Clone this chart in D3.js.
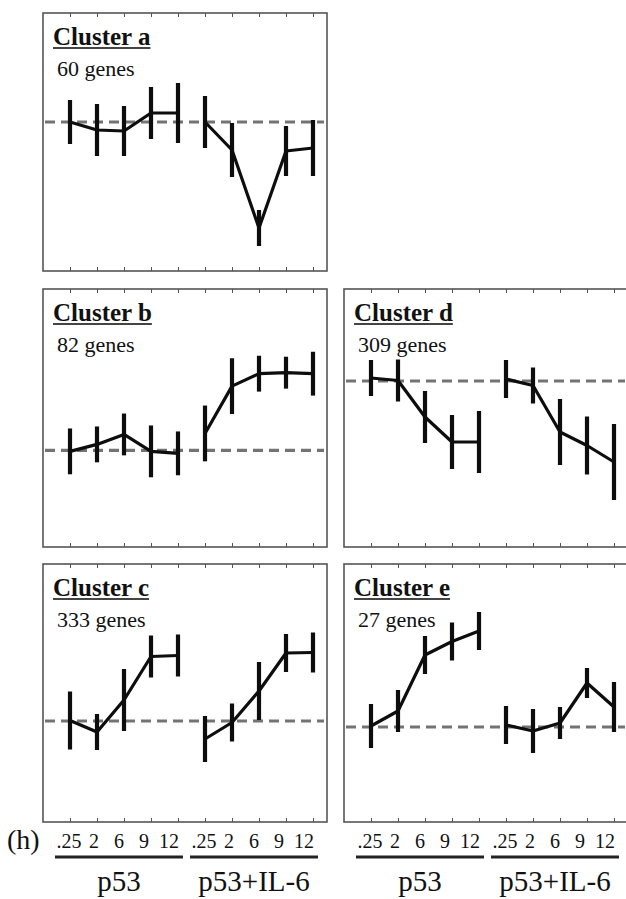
<!DOCTYPE html>
<html>
<head>
<meta charset="utf-8">
<script src="https://cdn.jsdelivr.net/npm/d3@7"></script>
<style>
  html, body { margin: 0; padding: 0; background: #fff; }
  svg { display: block; }
</style>
</head>
<body>
<svg id="chart" width="626" height="899"></svg>
<script>
// time points (h) and the two treatments
const timeLabels = [".25", "2", "6", "9", "12"];
const treatments = ["p53", "p53+IL-6"];

// clusters, gene counts, mean ratio per time point (p53 then p53+IL-6) and error half-widths
const clusterNames = ["a", "b", "c", "d", "e"];
const geneCounts = [60, 82, 333, 309, 27];

const meansA = [0.00, -0.08, -0.09, 0.09, 0.09, 0.00, -0.28, -1.06, -0.29, -0.26];
const errA   = [0.22, 0.26, 0.25, 0.26, 0.30, 0.26, 0.27, 0.18, 0.25, 0.28];

const meansB = [-0.01, 0.06, 0.16, -0.01, -0.03, 0.17, 0.645, 0.77, 0.78, 0.77];
const errB   = [0.23, 0.18, 0.21, 0.26, 0.22, 0.28, 0.28, 0.18, 0.16, 0.22];

const meansC = [0.005, -0.11, 0.21, 0.645, 0.655, -0.18, -0.015, 0.30, 0.68, 0.685];
const errC   = [0.29, 0.18, 0.31, 0.21, 0.21, 0.23, 0.19, 0.29, 0.19, 0.20];

const meansD = [0.03, 0.005, -0.36, -0.61, -0.61, 0.02, -0.045, -0.51, -0.645, -0.81];
const errD   = [0.18, 0.21, 0.26, 0.27, 0.31, 0.19, 0.18, 0.33, 0.29, 0.38];

const meansE = [0.01, 0.16, 0.72, 0.855, 0.96, 0.02, -0.04, 0.04, 0.44, 0.20];
const errE   = [0.22, 0.21, 0.19, 0.19, 0.19, 0.19, 0.22, 0.16, 0.15, 0.25];

// y extent shown in each panel
const yDomains = [[-1.49, 1.09], [-0.97, 1.62], [-1.01, 1.57], [-1.66, 0.92], [-0.95, 1.63]];

const allMeans = [meansA, meansB, meansC, meansD, meansE];
const allErrs = [errA, errB, errC, errD, errE];

const serif = "'Liberation Serif', 'Times New Roman', 'DejaVu Serif', serif";
const svg = d3.select("#chart").attr("font-family", serif);

// panel grid: two columns, three rows (top right is empty)
const colX = [43, 344];
const rowY = [13, 289, 564];
const panelW = 284, panelH = 258;
const cells = [[0, 0], [0, 1], [0, 2], [1, 1], [1, 2]]; // [col,row] for a..e

// one key per time point of each treatment
const keys = treatments.flatMap(t => timeLabels.map(h => t + "|" + h));
const x = d3.scalePoint().domain(keys).range([27, 270]);

clusterNames.forEach((name, ci) => {
  const [col, row] = cells[ci];
  const g = svg.append("g").attr("transform", `translate(${colX[col]},${rowY[row]})`);
  const y = d3.scaleLinear().domain(yDomains[ci]).range([panelH, 0]);

  // frame
  g.append("rect")
    .attr("width", panelW).attr("height", panelH)
    .attr("fill", "none").attr("stroke", "#555").attr("stroke-width", 1.6);

  // small inward ticks top and bottom
  const tickAxisB = d3.axisBottom(x).tickSize(-4).tickFormat("");
  const tickAxisT = d3.axisTop(x).tickSize(-4).tickFormat("");
  g.append("g").attr("transform", `translate(0,${panelH})`).call(tickAxisB)
    .call(a => a.select(".domain").remove())
    .call(a => a.selectAll("line").attr("stroke", "#555"));
  g.append("g").call(tickAxisT)
    .call(a => a.select(".domain").remove())
    .call(a => a.selectAll("line").attr("stroke", "#555"));

  // baseline (ratio 0)
  g.append("line")
    .attr("x1", 2).attr("x2", panelW - 3)
    .attr("y1", y(0)).attr("y2", y(0))
    .attr("stroke", "#737373").attr("stroke-width", 3.2)
    .attr("stroke-dasharray", "10 6");

  const pts = keys.map((k, i) => ({ key: k, m: allMeans[ci][i], e: allErrs[ci][i], grp: Math.floor(i / 5) }));

  // error bars
  g.selectAll(".bar").data(pts).enter().append("line")
    .attr("class", "bar")
    .attr("x1", d => x(d.key)).attr("x2", d => x(d.key))
    .attr("y1", d => y(d.m + d.e)).attr("y2", d => y(d.m - d.e))
    .attr("stroke", "#0d0d0d").attr("stroke-width", 4.2);

  // mean profile, separate for each treatment
  const line = d3.line().x(d => x(d.key)).y(d => y(d.m));
  treatments.forEach((t, ti) => {
    g.append("path")
      .datum(pts.filter(d => d.grp === ti))
      .attr("d", line)
      .attr("fill", "none").attr("stroke", "#0d0d0d")
      .attr("stroke-width", 3.2).attr("stroke-linejoin", "round");
  });

  // titles
  const title = g.append("text")
    .attr("x", 10).attr("y", 32)
    .attr("font-family", serif)
    .attr("font-size", 25).attr("font-weight", "bold")
    .attr("fill", "#111")
    .text("Cluster " + name);
  const tw = title.node().getComputedTextLength();
  g.append("line")
    .attr("x1", 10).attr("x2", 10 + tw)
    .attr("y1", 35).attr("y2", 35)
    .attr("stroke", "#444").attr("stroke-width", 1.8);
  g.append("text")
    .attr("x", 14).attr("y", 63)
    .attr("font-family", serif)
    .attr("font-size", 22)
    .attr("fill", "#111")
    .text(geneCounts[ci] + " genes");
});

// time axis labels and treatment bars under the bottom row
const baseY = rowY[2] + panelH;
svg.append("text")
  .attr("x", 7).attr("y", baseY + 27)
  .attr("font-family", serif)
  .attr("font-size", 28)
  .attr("fill", "#111")
  .text("(h)");

colX.forEach(cx => {
  treatments.forEach((t, ti) => {
    const first = cx + x(keys[ti * 5]);
    const last = cx + x(keys[ti * 5 + 4]);
    timeLabels.forEach((h, i) => {
      svg.append("text")
        .attr("x", first + i * 25 - 1)
        .attr("y", baseY + 26)
        .attr("text-anchor", "middle")
        .attr("font-family", serif)
        .attr("font-size", 20)
        .attr("fill", "#111")
        .text(h);
    });
    svg.append("line")
      .attr("x1", first - 15).attr("x2", last + 5)
      .attr("y1", baseY + 35).attr("y2", baseY + 35)
      .attr("stroke", "#222").attr("stroke-width", 3);
    svg.append("text")
      .attr("x", (first - 15 + last + 5) / 2)
      .attr("y", baseY + 69)
      .attr("text-anchor", "middle")
      .attr("font-family", serif)
      .attr("font-size", 29)
      .attr("fill", "#111")
      .text(t);
  });
});
</script>
</body>
</html>
